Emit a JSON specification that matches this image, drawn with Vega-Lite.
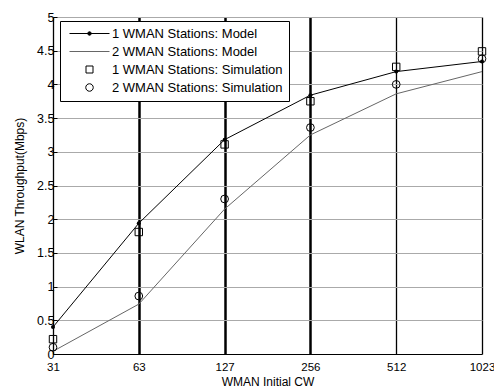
{
  "$schema": "https://vega.github.io/schema/vega-lite/v6.json",
  "width": 429,
  "height": 337,
  "autosize": {"type": "none"},
  "padding": {"left": 53, "top": 17, "right": 12, "bottom": 34},
  "background": "white",
  "config": {
    "font": "Liberation Sans",
    "view": {"stroke": null},
    "axis": {"labelFont": "Liberation Sans", "titleFont": "Liberation Sans", "labelFontSize": 11.5, "titleFontSize": 12, "titleFontWeight": "normal", "labelColor": "black", "titleColor": "black", "domainColor": "black"}
  },
  "data": {
    "values": [
      {"cw": 31, "series": "1 WMAN Stations: Model", "y": 0.4},
      {"cw": 63, "series": "1 WMAN Stations: Model", "y": 1.94},
      {"cw": 127, "series": "1 WMAN Stations: Model", "y": 3.18},
      {"cw": 256, "series": "1 WMAN Stations: Model", "y": 3.84},
      {"cw": 512, "series": "1 WMAN Stations: Model", "y": 4.19},
      {"cw": 1023, "series": "1 WMAN Stations: Model", "y": 4.34},
      {"cw": 31, "series": "2 WMAN Stations: Model", "y": 0.04},
      {"cw": 63, "series": "2 WMAN Stations: Model", "y": 0.74},
      {"cw": 127, "series": "2 WMAN Stations: Model", "y": 2.15},
      {"cw": 256, "series": "2 WMAN Stations: Model", "y": 3.25},
      {"cw": 512, "series": "2 WMAN Stations: Model", "y": 3.86},
      {"cw": 1023, "series": "2 WMAN Stations: Model", "y": 4.19},
      {"cw": 31, "series": "1 WMAN Stations: Simulation", "y": 0.22},
      {"cw": 63, "series": "1 WMAN Stations: Simulation", "y": 1.81},
      {"cw": 127, "series": "1 WMAN Stations: Simulation", "y": 3.11},
      {"cw": 256, "series": "1 WMAN Stations: Simulation", "y": 3.75},
      {"cw": 512, "series": "1 WMAN Stations: Simulation", "y": 4.26},
      {"cw": 1023, "series": "1 WMAN Stations: Simulation", "y": 4.49},
      {"cw": 31, "series": "2 WMAN Stations: Simulation", "y": 0.1},
      {"cw": 63, "series": "2 WMAN Stations: Simulation", "y": 0.86},
      {"cw": 127, "series": "2 WMAN Stations: Simulation", "y": 2.3},
      {"cw": 256, "series": "2 WMAN Stations: Simulation", "y": 3.36},
      {"cw": 512, "series": "2 WMAN Stations: Simulation", "y": 4.0},
      {"cw": 1023, "series": "2 WMAN Stations: Simulation", "y": 4.38}
    ]
  },
  "encoding": {
    "x": {
      "field": "cw", "type": "ordinal",
      "scale": {"type": "point", "padding": 0},
      "axis": {
        "title": "WMAN Initial CW", "labelAngle": 0, "labelPadding": 7, "titlePadding": 4,
        "ticks": false, "grid": true, "gridColor": "black",
        "gridWidth": {"condition": {"test": "datum.value == 63 || datum.value == 127 || datum.value == 256", "value": 2.5}, "value": 1.3},
        "gridOpacity": 1
      }
    },
    "y": {
      "field": "y", "type": "quantitative",
      "scale": {"domain": [0, 5], "nice": false, "zero": true},
      "axis": {
        "title": "WLAN Throughput(Mbps)", "values": [0, 0.5, 1, 1.5, 2, 2.5, 3, 3.5, 4, 4.5, 5], "format": "~g",
        "labelFontSize": 12.5,
        "grid": true, "gridColor": "#aaaaaa", "gridWidth": 1, "tickSize": -4, "tickColor": "black",
        "labelPadding": 3, "titlePadding": 10
      }
    }
  },
  "layer": [
    {
      "transform": [{"filter": "indexof(datum.series, 'Model') >= 0"}],
      "mark": {"type": "line", "strokeWidth": 1},
      "encoding": {
        "color": {"field": "series", "type": "nominal", "legend": null,
          "scale": {"domain": ["1 WMAN Stations: Model", "2 WMAN Stations: Model"], "range": ["black", "#666666"]}}
      }
    },
    {
      "transform": [{"filter": "datum.series == '1 WMAN Stations: Model'"}],
      "mark": {"type": "point", "shape": "circle", "filled": true, "color": "black", "size": 16, "opacity": 1}
    },
    {
      "transform": [{"filter": "datum.series == '1 WMAN Stations: Simulation'"}],
      "mark": {"type": "point", "shape": "square", "filled": false, "color": "black", "size": 55, "strokeWidth": 1, "opacity": 1}
    },
    {
      "transform": [{"filter": "datum.series == '2 WMAN Stations: Simulation'"}],
      "mark": {"type": "point", "shape": "circle", "filled": false, "color": "black", "size": 60, "strokeWidth": 1, "opacity": 1}
    },
    {
      "transform": [{"filter": "datum.cw < 0"}],
      "mark": {"type": "point", "opacity": 1, "strokeWidth": 1},
      "encoding": {
        "shape": {
          "field": "series", "type": "nominal",
          "scale": {
            "domain": ["1 WMAN Stations: Model", "2 WMAN Stations: Model", "1 WMAN Stations: Simulation", "2 WMAN Stations: Simulation"],
            "range": [
              "M-4,0H4M-0.35,0A0.35,0.35,0,1,0,0.35,0A0.35,0.35,0,1,0,-0.35,0Z",
              "M-4,0H4",
              "M-0.7,-0.7H0.7V0.7H-0.7Z",
              "M-0.75,0A0.75,0.75,0,1,0,0.75,0A0.75,0.75,0,1,0,-0.75,0Z"
            ]
          },
          "legend": {
            "title": null, "orient": "none", "legendX": 7, "legendY": 4,
            "direction": "vertical",
            "fillColor": "white", "strokeColor": "black", "padding": 6,
            "symbolSize": 100, "symbolOffset": 17, "labelOffset": 16,
            "symbolStrokeWidth": 1, "symbolOpacity": 1,
            "labelFont": "Liberation Sans", "labelFontSize": 13, "labelColor": "black",
            "rowPadding": 4, "labelLimit": 300
          }
        },
        "stroke": {
          "field": "series", "type": "nominal",
          "scale": {
            "domain": ["1 WMAN Stations: Model", "2 WMAN Stations: Model", "1 WMAN Stations: Simulation", "2 WMAN Stations: Simulation"],
            "range": ["black", "#666666", "black", "black"]
          },
          "legend": {
            "title": null, "orient": "none", "legendX": 7, "legendY": 4,
            "direction": "vertical",
            "fillColor": "white", "strokeColor": "black", "padding": 6,
            "symbolSize": 100, "symbolOffset": 17, "labelOffset": 16,
            "symbolStrokeWidth": 1, "symbolOpacity": 1,
            "labelFont": "Liberation Sans", "labelFontSize": 13, "labelColor": "black",
            "rowPadding": 4, "labelLimit": 300
          }
        },
        "fill": {
          "field": "series", "type": "nominal",
          "scale": {
            "domain": ["1 WMAN Stations: Model", "2 WMAN Stations: Model", "1 WMAN Stations: Simulation", "2 WMAN Stations: Simulation"],
            "range": ["black", "transparent", "transparent", "transparent"]
          },
          "legend": {
            "title": null, "orient": "none", "legendX": 7, "legendY": 4,
            "direction": "vertical",
            "fillColor": "white", "strokeColor": "black", "padding": 6,
            "symbolSize": 100, "symbolOffset": 17, "labelOffset": 16,
            "symbolStrokeWidth": 1, "symbolOpacity": 1,
            "labelFont": "Liberation Sans", "labelFontSize": 13, "labelColor": "black",
            "rowPadding": 4, "labelLimit": 300
          }
        }
      }
    }
  ]
}
